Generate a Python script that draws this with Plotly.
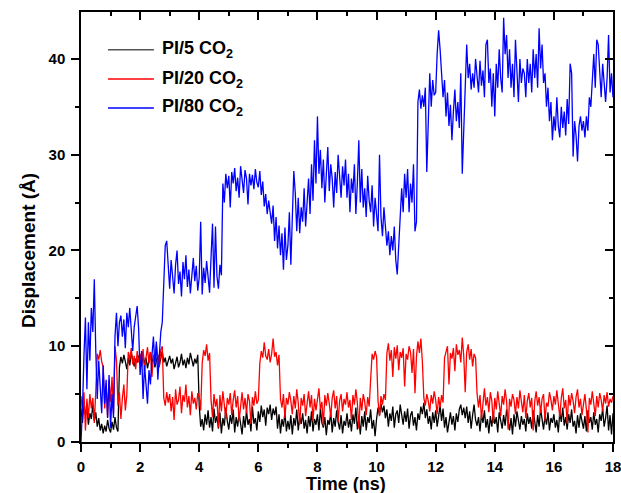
import numpy as np
import plotly.graph_objects as go

# sampling grid (ns)
t_step = 0.05
time_ns = np.round(np.arange(0, 18 + t_step / 2, t_step), 2)

pi5_co2 = [
    3.5, 2.0, 4.2, 2.8, 3.6, 1.8, 3.0, 2.4, 3.9, 2.2, 3.1, 1.6, 2.5, 1.2, 1.9, 0.9, 1.7, 1.1, 2.3, 1.4,
    1.0, 2.1, 1.3, 2.6, 1.5, 1.1, 7.8, 8.9, 8.2, 9.1, 8.4, 7.6, 8.8, 8.0, 9.3, 8.5, 7.9, 8.7, 8.3, 9.0,
    8.6, 7.9, 9.2, 8.1, 8.8, 7.7, 8.5, 9.4, 8.2, 8.9, 7.8, 8.6, 9.1, 8.0, 8.7, 9.5, 8.3, 8.8, 7.9, 8.6,
    9.0, 8.2, 8.7, 7.6, 8.4, 8.9, 7.8, 8.3, 9.2, 8.0, 8.6, 7.7, 8.8, 8.1, 9.3, 8.4, 7.9, 8.7, 8.2, 9.1,
    3.8, 1.6, 2.4, 1.2, 2.9, 1.8, 3.3, 1.5, 2.6, 1.1, 3.5, 2.0, 2.7, 1.4, 3.1, 0.9, 2.5, 1.7, 3.6, 2.2,
    1.3, 2.8, 1.9, 3.4, 1.0, 2.6, 1.6, 3.0, 2.1, 0.8, 2.7, 1.5, 3.3, 1.8, 2.4, 1.1, 3.7, 1.9, 2.5, 1.2,
    3.2, 2.1, 3.8, 2.6, 3.4, 1.7, 3.6, 2.9, 3.9, 2.3, 3.5, 2.8, 3.7, 1.4, 2.9, 0.9, 2.4, 1.6, 3.1, 1.1,
    2.2, 1.3, 2.8, 0.8, 2.5, 1.7, 3.4, 1.2, 2.6, 1.9, 3.0, 1.4, 2.3, 0.9, 2.7, 1.6, 3.2, 1.1, 2.4, 1.8,
    2.9, 1.2, 3.5, 2.0, 1.5, 2.6, 0.7, 2.3, 1.8, 3.1, 1.0, 2.5, 1.6, 3.3, 2.1, 1.3, 2.8, 0.9, 2.2, 1.7,
    3.0, 1.5, 2.4, 1.1, 2.9, 1.9, 3.6, 1.3, 2.5, 0.8, 2.7, 1.6, 3.2, 1.2, 2.6, 2.0, 3.4, 1.4, 2.3, 0.6,
    2.4, 3.6, 2.8, 4.0, 3.1, 3.8, 2.5, 3.4, 1.6, 3.0, 2.2, 3.7, 1.5, 2.9, 3.3, 2.0, 3.9, 2.6, 1.8, 3.2,
    2.1, 3.5, 1.4, 2.8, 3.2, 1.7, 2.6, 1.2, 3.0, 2.3, 3.7, 2.9, 4.1, 2.5, 3.4, 1.9, 2.7, 1.3, 3.1, 2.0,
    3.3, 1.6, 2.9, 3.8, 2.2, 3.5, 1.5, 2.6, 1.0, 2.4, 3.1, 1.8, 2.7, 1.2, 3.0, 2.1, 3.4, 3.9, 2.8, 3.6,
    2.5, 3.7, 2.0, 3.2, 1.4, 2.8, 3.9, 2.3, 1.7, 2.6, 1.1, 2.9, 2.0, 3.3, 1.5, 2.4, 0.9, 2.7, 1.6, 3.0,
    1.9, 2.6, 1.0, 3.1, 2.2, 1.4, 2.8, 1.7, 3.4, 2.0, 1.2, 2.5, 0.8, 2.9, 1.6, 3.2, 2.3, 1.3, 2.7, 1.8,
    2.4, 1.1, 3.0, 1.9, 2.6, 1.4, 3.3, 2.1, 1.0, 2.8, 1.6, 3.5, 2.2, 1.3, 2.7, 1.8, 3.1, 1.2, 2.5, 2.0,
    2.9, 1.5, 2.3, 1.0, 3.2, 2.1, 3.6, 1.7, 2.6, 1.3, 2.9, 2.0, 3.4, 1.6, 2.2, 0.9, 2.8, 1.5, 3.0, 2.3,
    1.4, 2.7, 1.1, 3.3, 2.0, 2.6, 1.3, 3.1, 1.8, 2.4, 1.0, 2.9, 2.2, 3.5, 1.6, 2.5, 3.8, 1.2, 2.8, 0.8, 3.0,
]

pi20_co2 = [
    4.8, 3.0, 5.2, 1.2, 4.5, 2.5, 5.0, 3.5, 4.6, 2.0, 5.3, 9.2, 8.6, 9.6, 8.4, 7.8, 3.5, 5.8, 2.6, 6.5,
    4.2, 6.8, 3.0, 10.0, 8.5, 3.8, 5.2, 2.4, 4.6, 6.0, 3.3, 4.9, 9.4, 8.6, 9.8, 8.1, 9.0, 7.6, 9.5, 8.3,
    9.2, 8.0, 9.7, 7.4, 8.8, 9.9, 8.2, 9.4, 6.8, 9.1, 8.5, 10.2, 8.9, 7.8, 9.6, 10.0, 4.6, 3.8, 5.2, 4.1,
    5.0, 3.2, 4.7, 2.3, 5.5, 3.9, 4.4, 5.8, 3.0, 4.9, 4.2, 6.0, 3.6, 4.8, 2.8, 5.3, 4.0, 4.6, 3.4, 5.1,
    4.7, 3.3, 8.2, 9.6, 9.0, 10.2, 8.5, 9.3, 4.4, 2.6, 5.0, 3.7, 4.5, 1.5, 4.9, 3.2, 5.3, 4.0, 2.4, 4.6,
    3.9, 5.1, 2.8, 4.4, 5.4, 3.6, 4.8, 2.2, 4.1, 5.2, 3.4, 4.6, 3.0, 5.0, 4.3, 1.9, 4.7, 3.8, 5.3, 4.0,
    4.4, 8.2, 9.5, 8.8, 10.4, 9.0, 8.6, 9.7, 8.3, 9.2, 10.8, 8.9, 9.4, 8.0, 9.1, 4.5, 3.6, 5.0, 2.5, 4.6,
    3.9, 5.2, 4.3, 2.9, 4.8, 3.5, 5.5, 4.1, 1.8, 4.6, 3.8, 5.0, 2.7, 4.4, 5.3, 3.6, 4.9, 2.2, 4.5, 3.3,
    4.7, 5.6, 3.4, 4.2, 1.7, 4.9, 3.8, 5.1, 4.0, 2.6, 4.6, 5.4, 3.5, 4.8, 2.1, 4.3, 5.0, 3.2, 4.5, 3.9,
    5.2, 3.6, 4.4, 2.3, 4.9, 3.9, 5.5, 4.1, 1.4, 4.6, 3.3, 5.0, 4.2, 2.8, 4.7, 3.7, 6.5, 9.2, 8.6, 9.5,
    8.9, 4.3, 2.7, 4.8, 3.9, 5.0, 4.4, 9.3, 10.3, 8.5, 9.6, 6.8, 9.9, 8.7, 10.1, 7.5, 9.4, 8.8, 9.8, 5.8,
    9.2, 8.6, 10.0, 9.4, 7.2, 9.7, 5.1, 8.9, 10.5, 9.3, 10.8, 8.4, 4.6, 3.8, 5.0, 4.3, 3.2, 4.9, 4.0, 5.3,
    4.4, 2.9, 4.7, 3.6, 4.9, 4.1, 8.8, 9.6, 10.0, 6.0, 9.3, 8.7, 9.8, 7.4, 10.2, 9.1, 9.6, 8.3, 10.9, 9.0,
    5.2, 9.4, 10.2, 8.6, 9.7, 7.9, 9.2, 8.8, 5.1, 3.6, 4.9, 2.4, 4.5, 5.6, 3.8, 4.7, 3.1, 5.2, 4.3, 2.0,
    4.6, 3.4, 5.3, 4.1, 2.7, 4.8, 3.9, 5.5, 4.2, 1.3, 4.5, 3.7, 5.0, 4.4, 2.9, 4.7, 3.5, 5.4, 4.0, 3.1,
    4.9, 2.5, 4.3, 5.1, 3.6, 4.6, 1.2, 4.2, 5.3, 3.8, 4.7, 3.0, 4.5, 5.0, 2.2, 4.1, 3.7, 5.2, 4.4, 3.3,
    4.8, 3.9, 5.4, 4.2, 2.6, 4.6, 5.6, 3.5, 4.4, 1.9, 4.9, 3.8, 5.1, 4.3, 3.0, 4.7, 5.5, 3.6, 4.5, 2.8,
    4.2, 5.0, 3.4, 1.0, 4.6, 3.9, 5.3, 4.1, 2.7, 4.8, 3.6, 5.1, 4.4, 3.2, 4.9, 4.0, 5.2, 3.7, 4.5, 4.1, 4.8,
]

pi80_co2 = [
    0.0, 3.5, 9.0, 13.0, 5.5, 12.5, 8.5, 14.0, 11.5, 17.0, 9.5, 4.5, 8.5, 6.0, 3.0, 8.0, 4.0, 6.5, 2.5, 7.0,
    1.5, 5.0, 2.5, 11.0, 13.5, 10.0, 12.5, 13.2, 11.0, 12.8, 9.8, 13.5, 12.0, 14.0, 11.5, 9.5, 12.0, 13.0, 14.2, 11.8,
    7.0, 9.5, 4.5, 8.0, 5.5, 4.0, 7.5, 6.0, 9.0, 11.0, 8.0, 10.5, 6.5, 9.5, 11.5, 12.5, 17.0, 20.5, 21.0, 18.0,
    16.0, 19.0, 17.5, 15.5, 18.5, 20.0, 16.5, 17.8, 15.2, 18.8, 17.0, 19.5, 16.2, 18.0, 15.5, 17.6, 19.2, 16.8, 18.4, 15.8,
    17.2, 23.0, 15.4, 18.2, 16.6, 18.9, 17.0, 15.6, 19.3, 22.8, 16.1, 22.5, 17.3, 16.0, 18.5, 17.4, 27.0, 25.0, 28.0, 26.5,
    27.8, 24.5, 28.2, 27.0, 28.6, 26.2, 27.6, 25.5, 28.8, 27.2, 26.0, 28.4, 27.5, 24.8, 28.0, 26.8, 27.9, 26.4, 28.5, 27.1,
    26.6, 28.3, 25.8, 27.2, 24.6, 25.9, 23.8, 25.2, 24.0, 22.8, 24.7, 21.0, 23.5, 20.2, 22.6, 19.5, 21.8, 18.0, 22.4, 19.0,
    20.5, 24.0, 18.5, 23.0, 28.3, 26.0, 22.0, 25.5, 21.8, 24.5, 23.0, 26.5, 22.5, 25.0, 27.5, 23.8, 29.0, 25.2, 31.5, 27.0,
    34.0, 28.0, 30.5, 26.5, 29.5, 25.0, 28.5, 30.8, 26.2, 29.0, 27.5, 24.5, 28.2, 26.0, 30.0, 27.3, 25.5, 28.8, 26.8, 29.5,
    25.5, 28.0, 24.0, 27.5, 26.0, 29.0, 23.8, 27.0, 31.5, 25.0, 28.5, 24.5, 26.5, 23.5, 27.8, 25.2, 24.0, 26.8, 22.5, 25.5,
    24.0, 22.0, 30.0, 23.5, 21.5, 24.5, 22.5, 20.5, 22.0, 19.5, 21.5, 20.0, 22.5, 19.0, 17.5, 21.0, 23.5, 26.5, 24.0, 28.0,
    25.5, 28.5, 24.0, 27.0, 25.0, 29.0, 22.0, 23.0, 35.5, 36.8, 34.8, 36.2, 35.0, 37.0, 28.2, 34.5, 38.5, 35.0, 37.8, 36.2,
    36.5, 40.5, 43.0, 41.0, 38.5, 36.0, 37.8, 34.0, 36.5, 33.0, 35.2, 31.5, 34.5, 36.8, 33.5, 35.5, 32.8, 38.5, 28.0, 33.0,
    37.5, 41.5, 38.0, 39.5, 36.8, 38.5, 37.0, 40.0, 38.2, 36.5, 39.8, 37.2, 38.8, 36.0, 41.5, 42.0, 37.5, 39.0, 35.0, 38.5,
    34.0, 39.5, 37.0, 41.0, 38.0, 36.5, 44.3, 40.5, 42.5, 38.0, 41.0, 37.0, 39.5, 36.0, 42.0, 38.5, 35.5, 40.0, 37.5, 39.0,
    38.5, 36.0, 40.0, 37.5, 39.5, 36.5, 41.0, 38.0, 40.5, 37.0, 43.2, 39.0, 41.5, 37.5, 38.5, 35.0, 37.0, 33.5, 35.5, 31.5,
    34.0, 32.5, 36.0, 33.0, 31.8, 35.0, 32.8, 34.5, 32.0, 35.8, 33.2, 39.5, 38.5, 29.8, 33.5, 32.0, 29.3, 33.0, 34.0, 32.5,
    33.5, 31.8, 34.0, 32.5, 36.0, 35.0, 38.5, 40.5, 37.0, 42.0, 41.5, 38.0, 36.0, 39.5, 37.5, 35.5, 38.0, 42.5, 36.5, 38.5, 36.0,
]

series_names = ["PI/5 CO<sub>2</sub>", "PI/20 CO<sub>2</sub>", "PI/80 CO<sub>2</sub>"]
series_values = [pi5_co2, pi20_co2, pi80_co2]
series_colors = ["#000000", "#ff0000", "#0000ff"]
legend_line_colors = ["#555555", "#ff0000", "#0000ff"]

x_ticks = list(range(0, 19, 2))
y_ticks = [0, 10, 20, 30, 40]
x_title = "Time (ns)"
y_title = "Displacement (Å)"

FONT = "Liberation Sans, Arial, sans-serif"

fig = go.Figure()
for name, vals, col in zip(series_names, series_values, series_colors):
    fig.add_trace(go.Scatter(x=time_ns, y=vals, mode="lines", name=name,
                             line=dict(color=col, width=1.3), showlegend=False))

# dummy invisible trace for the mirrored (top/right) axes with inward ticks
fig.add_trace(go.Scatter(x=[None], y=[None], xaxis="x2", yaxis="y2",
                         showlegend=False, hoverinfo="skip"))

# manual legend (line sample + label), placed in paper coordinates
legend_rows_y = [0.912, 0.844, 0.777]
shapes = []
annotations = []
for name, col, yy in zip(series_names, legend_line_colors, legend_rows_y):
    shapes.append(dict(type="line", xref="paper", yref="paper", x0=0.0508, x1=0.137,
                       y0=yy, y1=yy, line=dict(color=col, width=1.5)))
    annotations.append(dict(xref="paper", yref="paper", x=0.1485, y=yy, xanchor="left",
                            yanchor="middle", showarrow=False, text=name,
                            font=dict(family=FONT, size=18, color="black", weight="bold")))

annotations.append(dict(xref="paper", yref="paper", x=0.498, y=-0.097, xanchor="center",
                        yanchor="middle", showarrow=False, text=x_title,
                        font=dict(family=FONT, size=18, color="black", weight="bold")))
annotations.append(dict(xref="paper", yref="paper", x=-0.0996, y=0.444, xanchor="center",
                        yanchor="middle", showarrow=False, text=y_title, textangle=-90,
                        font=dict(family=FONT, size=19, color="black", weight="bold")))

tickfont = dict(family=FONT, size=15, color="black", weight="bold")
fig.update_layout(
    width=621, height=493,
    margin=dict(l=81, r=8, t=12, b=51),
    paper_bgcolor="white", plot_bgcolor="white",
    showlegend=False,
    shapes=shapes,
    annotations=annotations,
    xaxis=dict(range=[0, 18], tickvals=x_ticks, ticks="outside", ticklen=8,
               tickwidth=1.5, tickcolor="black", automargin=False, ticklabelstandoff=2,
               ticklabeloverflow="allow",
               minor=dict(dtick=1, ticks="outside", ticklen=4, tickwidth=1.5, tickcolor="black"),
               showline=True, linecolor="black", linewidth=1.5, mirror=True,
               showgrid=False, zeroline=False, tickfont=tickfont),
    yaxis=dict(range=[0, 44.9], tickvals=y_ticks, ticks="outside", ticklen=8,
               tickwidth=1.5, tickcolor="black", automargin=False, ticklabelstandoff=3,
               ticklabeloverflow="allow",
               minor=dict(dtick=5, ticks="outside", ticklen=4, tickwidth=1.5, tickcolor="black"),
               showline=True, linecolor="black", linewidth=1.5, mirror=True,
               showgrid=False, zeroline=False, tickfont=tickfont),
    xaxis2=dict(range=[0, 18], overlaying="x", side="top", anchor="y2", automargin=False,
                tickvals=x_ticks, ticks="inside", ticklen=8, tickwidth=1.5, tickcolor="black",
                minor=dict(dtick=1, ticks="inside", ticklen=4, tickwidth=1.5, tickcolor="black"),
                showticklabels=False, showgrid=False, zeroline=False, showline=False),
    yaxis2=dict(range=[0, 44.9], overlaying="y", side="right", anchor="x2", automargin=False,
                tickvals=y_ticks, ticks="inside", ticklen=8, tickwidth=1.5, tickcolor="black",
                minor=dict(dtick=5, ticks="inside", ticklen=4, tickwidth=1.5, tickcolor="black"),
                showticklabels=False, showgrid=False, zeroline=False, showline=False),
)

# remove the browser's default body margin so the 621x493 figure fills the window exactly
fig.write_html("out.html",
               config={"displayModeBar": False},
               post_script="document.body.style.margin='0';document.body.style.overflow='hidden';")
